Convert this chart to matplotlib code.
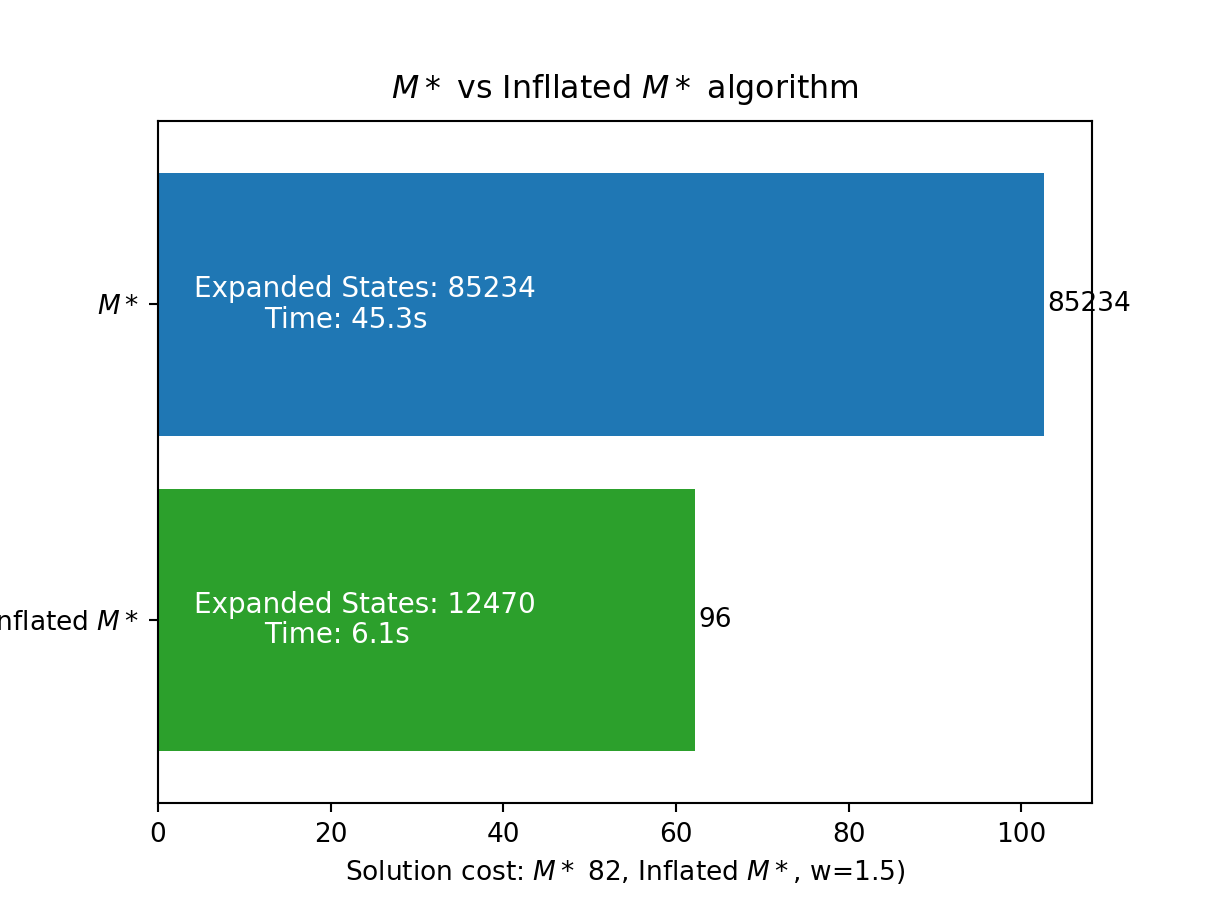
import matplotlib
matplotlib.use("Agg")
import matplotlib.pyplot as plt

# === Data ===
algorithms = ["$M*$", "Inflated $M*$"]
solution_cost = [102.6, 62.15]
expanded_states = [85234, 12470]
run_times = ["45.3", "6.1"]
end_labels = ["85234", "96"]
bar_colors = ["#1f77b4", "#2ca02c"]

# === Plot ===
fig, ax = plt.subplots(figsize=(6.4, 4.8), dpi=190)
fig.subplots_adjust(left=0.13, right=0.898, top=0.867, bottom=0.119)

ypos = list(range(len(algorithms)))
bars = ax.barh(ypos, solution_cost, height=0.83, color=bar_colors)
ax.set_yticks(ypos)
ax.set_yticklabels(algorithms)
ax.set_ylim(1.58, -0.58)  # M* on top
ax.set_xlim(0, 108.2)

ax.bar_label(bars, labels=end_labels, padding=1.5, fontsize=10)

for i, (states, t) in enumerate(zip(expanded_states, run_times)):
    ax.text(24, i, f"Expanded States: {states}\n        Time: {t}s",
            color="white", fontsize=10.5, ha="center", va="center",
            multialignment="left", linespacing=1.1)

ax.set_title("$M*$ vs Infllated $M*$ algorithm", fontsize=12, pad=9)
ax.set_xlabel("Solution cost: $M*$ 82, Inflated $M*$, w=1.5)")

fig.savefig("out.png", dpi=190)
